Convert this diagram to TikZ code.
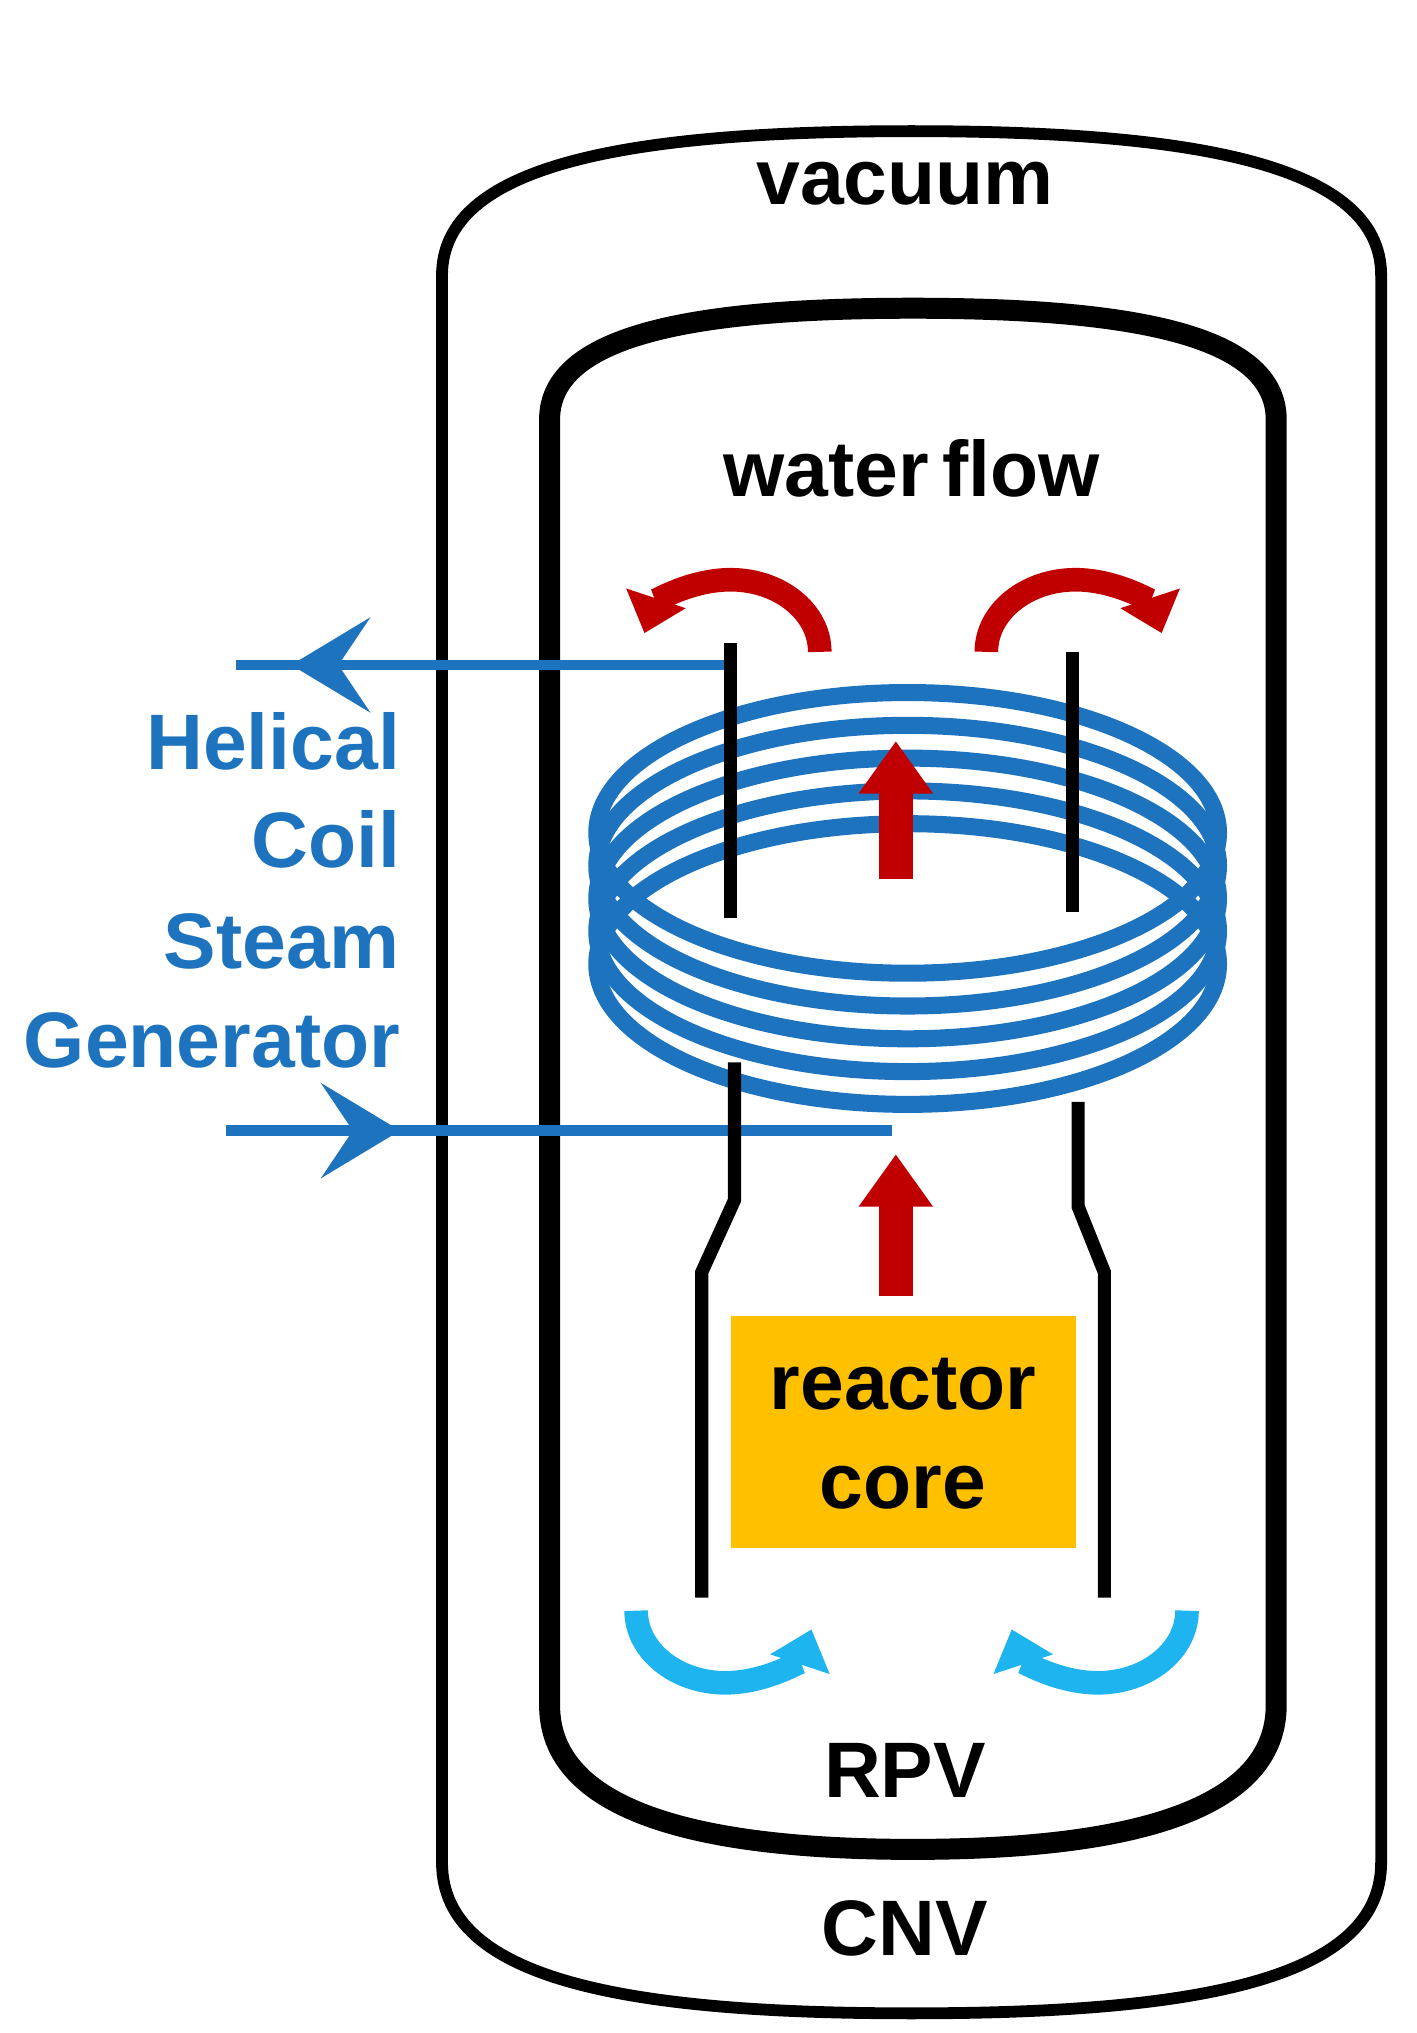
\documentclass[tikz,border=0pt]{standalone}
\usepackage{fontspec}
\setmainfont{Liberation Sans}
\usetikzlibrary{arrows.meta}
\definecolor{cblue}{HTML}{1E73BE}
\definecolor{cred}{HTML}{C00000}
\definecolor{clblue}{HTML}{1EB4F0}
\definecolor{corange}{HTML}{FFC000}
\begin{document}
\begin{tikzpicture}[x=0.5pt,y=-0.5pt,
  lbl/.style={font=\fontsize{30}{34}\selectfont\bfseries},
  blbl/.style={lbl,text=cblue,anchor=east},
  riser/.style={line width=5pt,black},
  coil/.style={line width=6.5pt,cblue},
  redup/.style={cred,line width=13pt,-{Triangle[length=20pt,width=27pt]}},
  redc/.style={cred,line width=9pt,-{Triangle[length=14pt,width=23pt]}},
  bluec/.style={clblue,line width=9pt,-{Triangle[length=14pt,width=23pt]}},
  chev/.style={cblue,line width=4pt,-{Stealth[length=30pt,width=36pt,inset=12pt]}}]
\useasboundingbox (0,0) rectangle (1080,1550);
% CNV
\draw[line width=4.5pt] (337,210) -- (337,1420)
  .. controls (337,1510) and (480,1535) .. (695,1535)
  .. controls (910,1535) and (1053,1510) .. (1053,1420) -- (1053,210)
  .. controls (1053,125) and (910,100) .. (695,100)
  .. controls (480,100) and (337,125) .. cycle;
% RPV
\draw[line width=8pt] (419,320) -- (419,1300)
  .. controls (419,1380) and (530,1410) .. (696,1410)
  .. controls (862,1410) and (973,1380) .. (973,1300) -- (973,320)
  .. controls (973,255) and (862,235) .. (696,235)
  .. controls (530,235) and (419,255) .. cycle;
\node[lbl] (vac) at (690,140) {vacuum};
\node[lbl] (wf) at (695,357) {water\,flow};
\node[lbl] (rpv) at (690,1350) {RPV};
\node[lbl] (cnv) at (690,1470) {CNV};
% core
\node[fill=corange,minimum width=131.5pt,minimum height=88.5pt,inner sep=0pt] (core) at (688.5,1091.5) {};
\node[lbl,align=center,font=\fontsize{30}{38}\selectfont\bfseries] (coretxt) at (688.5,1093) {reactor\\core};
% blue piping
\coordinate (outA) at (557,507); \coordinate (outB) at (180,507);
\coordinate (inA) at (172,862); \coordinate (inB) at (680,862);
\draw[cblue,line width=4pt] (outA) -- (outB);
\draw[chev] (310,507) -- (222,507);
\draw[cblue,line width=4pt] (inA) -- (inB);
\draw[chev] (210,862) -- (305,862);
% coil
\foreach \k in {0,1,2,3,4}
  \draw[coil] (692,{635+25*\k}) ellipse[x radius=237,y radius=107];
% risers
\draw[riser] (557,490) -- (557,700);
\draw[riser] (560,810) -- (560,915) -- (535,970) -- (535,1218);
\draw[riser] (818,497) -- (818,695);
\draw[riser] (822,840) -- (822,920) -- (842,970) -- (842,1218);
% labels
\node[blbl] (h1) at (312,565) {Helical};
\node[blbl] (h2) at (312,640) {Coil};
\node[blbl] (h3) at (312,718) {Steam};
\node[blbl] (h4) at (312,793) {Generator};
% red arrows
\draw[redup] (683,670) -- (683,565);
\draw[redup] (683,988) -- (683,880);
\draw[redc] (625,497) arc[start angle=0,end angle=-165,x radius=68,y radius=55];
\draw[redc] (752,497) arc[start angle=180,end angle=345,x radius=68,y radius=55];
% light blue arrows
\draw[bluec] (485,1228) arc[start angle=180,end angle=15,x radius=68,y radius=55];
\draw[bluec] (905,1228) arc[start angle=0,end angle=165,x radius=68,y radius=55];
\end{tikzpicture}
\end{document}
